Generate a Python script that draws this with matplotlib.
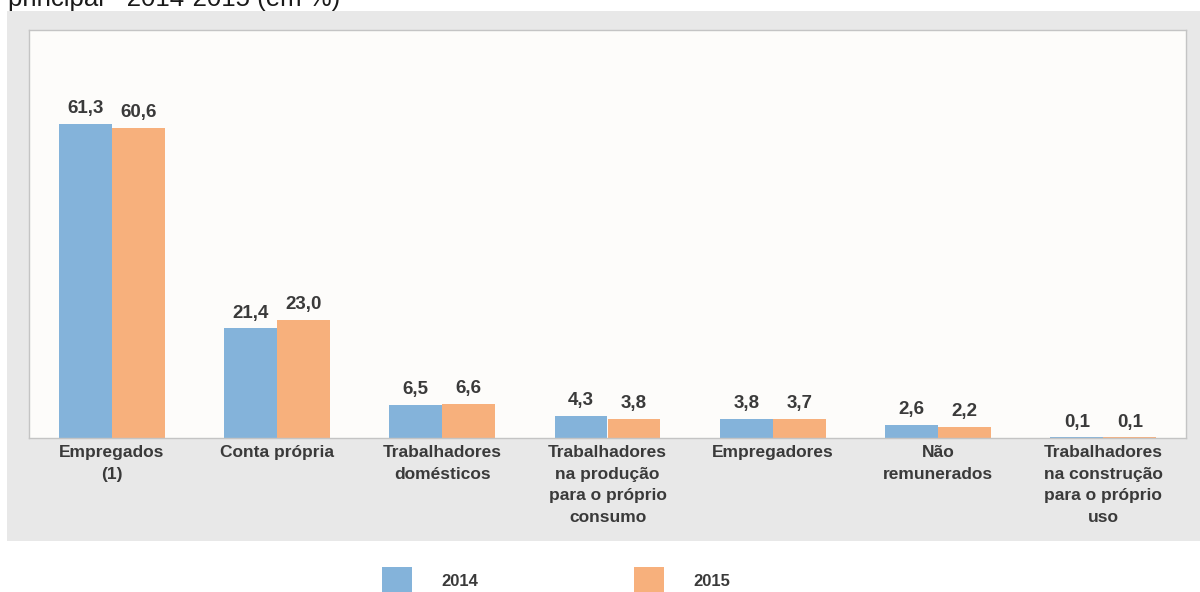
import numpy as np
import matplotlib.pyplot as plt
from matplotlib.patches import Rectangle

categories = ['Empregados\n(1)', 'Conta própria', 'Trabalhadores\ndomésticos',
              'Trabalhadores\nna produção\npara o próprio\nconsumo', 'Empregadores',
              'Não\nremunerados', 'Trabalhadores\nna construção\npara o próprio\nuso']
values_2014 = [61.3, 21.4, 6.5, 4.3, 3.8, 2.6, 0.1]
values_2015 = [60.6, 23.0, 6.6, 3.8, 3.7, 2.2, 0.1]
years = ['2014', '2015']

BLUE = '#84b3da'
ORANGE = '#f7b07c'
TEXT = '#3a3a3a'
W, H = 1200, 592

plt.rcParams['font.family'] = ['Liberation Sans', 'DejaVu Sans']

fig = plt.figure(figsize=(W / 100, H / 100), dpi=100)
fig.patch.set_facecolor('white')

# grey panel behind the chart
fig.add_artist(Rectangle((7 / W, 1 - 541 / H), (W - 7) / W, 530 / H,
                         transform=fig.transFigure, facecolor='#e8e8e8',
                         edgecolor='none', zorder=0))

# title is cut at the top edge, as in the source image
fig.text(8 / W, 1 - 6 / H, 'principal - 2014-2015 (em %)', fontsize=18.5,
         color='#1a1a1a', va='baseline', ha='left')

ax = fig.add_axes([29 / W, 1 - 438 / H, (1186 - 29) / W, (438 - 30) / H])
ax.set_facecolor('#fdfcfa')
for s in ax.spines.values():
    s.set_color('#c4c4c4')
    s.set_linewidth(1.0)

x = np.arange(len(categories))
bw = 0.32
b1 = ax.bar(x - bw / 2, values_2014, bw, color=BLUE, label=years[0])
b2 = ax.bar(x + bw / 2, values_2015, bw, color=ORANGE, label=years[1])

for bars, vals in ((b1, values_2014), (b2, values_2015)):
    ax.bar_label(bars, labels=[f'{v:.1f}'.replace('.', ',') for v in vals],
                 padding=5, fontsize=13.5, fontweight='bold', color=TEXT)

ax.set_xlim(-0.5, len(categories) - 0.5)
ax.set_ylim(0, 79.7)
ax.set_yticks([])
ax.set_xticks(x)
ax.set_xticklabels(categories, fontsize=12.5, fontweight='bold', color=TEXT,
                   linespacing=1.55)
ax.tick_params(axis='x', length=0, pad=5)

fig.legend(handles=[b1, b2], labels=years, loc='center',
           bbox_to_anchor=(556 / W, 1 - 581 / H), ncol=2, frameon=False,
           handlelength=1.8, handleheight=2.2,
           handletextpad=1.8, columnspacing=9.3,
           labelcolor=TEXT, prop={'weight': 'bold', 'size': 12})

fig.savefig('out.png', dpi=100, facecolor='white')
